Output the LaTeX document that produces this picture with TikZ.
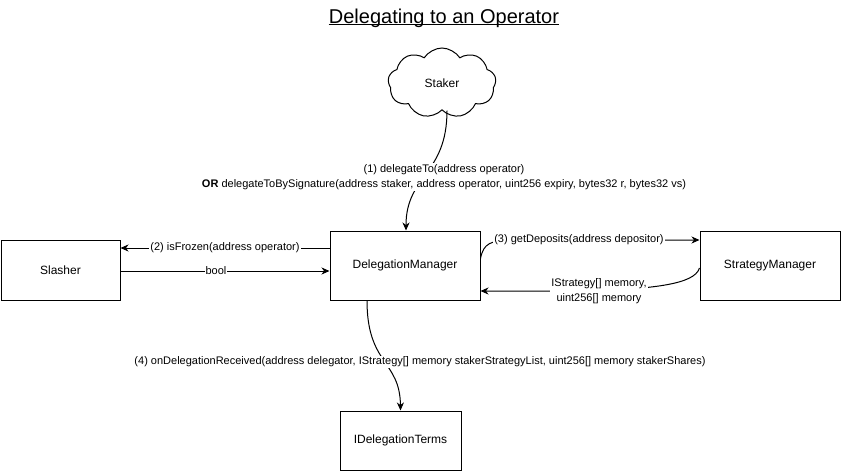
\documentclass[tikz,border=0pt]{standalone}
\usepackage{fontspec}
\setmainfont{Liberation Sans}
\usetikzlibrary{arrows.meta,shapes.symbols}
\begin{document}
\begin{tikzpicture}[x=1pt,y=-1pt,
  box/.style={draw=black,line width=1pt,fill=white,rectangle,inner sep=0pt,font=\fontsize{12}{14}\selectfont},
  lbl/.style={fill=white,inner sep=1pt,font=\fontsize{11}{15}\selectfont,align=center},
  arr/.style={draw=black,line width=1pt,-{Stealth[length=8pt,width=7pt,inset=2.5pt]}}]
\useasboundingbox (0,0) rectangle (841,471);
% title
\node[inner sep=0pt,font=\fontsize{20}{24}\selectfont] (title) at (444,18) {Delegating to an Operator};
\draw[line width=1pt] ([yshift=-1.5pt]title.base west) -- ([yshift=-1.5pt]title.base east);
% nodes
\node[draw=black,line width=1pt,cloud,cloud puffs=9,cloud puff arc=115,aspect=1.55,
      minimum width=108,minimum height=70,inner sep=0pt,font=\fontsize{12}{14}\selectfont] (staker) at (442,83) {Staker};
\node[box,minimum width=150,minimum height=69] (dm) at (405,265.5) {DelegationManager};
\node[box,minimum width=119,minimum height=60] (slasher) at (60.5,270) {Slasher};
\node[box,minimum width=140,minimum height=69] (sm) at (770,265.5) {StrategyManager};
\node[box,minimum width=121,minimum height=59] (idt) at (400.5,440.5) {IDelegationTerms};
% label positions
\coordinate (l1) at (444,177);
\coordinate (l2) at (225,248);
\coordinate (l3) at (216,271);
\coordinate (l4) at (579,240);
\coordinate (l5) at (599,291);
\coordinate (l6) at (420,362);
% connectors
\draw[arr] ([xshift=5pt]staker.south) .. controls (447,175) and (406,175) .. ([xshift=1pt]dm.north);
\draw[arr] (dm.west |- l2) -- (slasher.east |- l2);
\draw[arr] (slasher.east |- l3) -- (dm.west |- l3);
\draw[arr] ([yshift=7pt]dm.east) .. controls +(3,-15) and (490,240) .. (515,240) -- (sm.west |- l4);
\draw[arr] ([yshift=-2.5pt]sm.west) .. controls +(-5,17) and (650,288) .. (600,291) -- ([yshift=-25.5pt]dm.east);
\draw[arr] ([xshift=-38pt]dm.south) .. controls (367,365) and (400,360) .. (idt.north);
% labels
\node[lbl] (t1) at (l1) {(1) delegateTo(address operator)\\\textbf{OR} delegateToBySignature(address staker, address operator, uint256 expiry, bytes32 r, bytes32 vs)};
\node[lbl] (t2) at (l2) {(2) isFrozen(address operator)};
\node[lbl] (t3) at (l3) {bool};
\node[lbl] (t4) at (l4) {(3) getDeposits(address depositor)};
\node[lbl] (t5) at (l5) {IStrategy[] memory,\\uint256[] memory};
\node[lbl] (t6) at (l6) {(4) onDelegationReceived(address delegator, IStrategy[] memory stakerStrategyList, uint256[] memory stakerShares)};
\end{tikzpicture}
\end{document}
